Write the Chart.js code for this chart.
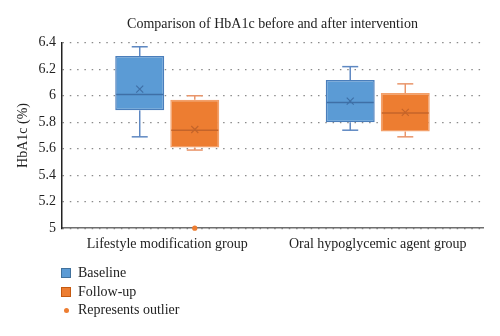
<!DOCTYPE html>
<html>
<head>
<meta charset="utf-8">
<script src="https://cdn.jsdelivr.net/npm/chart.js@4/dist/chart.umd.min.js"></script>
<style>
  html, body { margin: 0; padding: 0; background: #fff; }
  #wrap { position: relative; width: 500px; height: 336px; }
  #legend { position: absolute; left: 61px; top: 264px; font-family: 'Liberation Serif', serif; font-size: 14px; color: #222; }
  .item { height: 18.5px; display: flex; align-items: center; }
  .sw { width: 10px; height: 10px; margin-right: 7px; box-sizing: border-box; }
  .dot { width: 5px; height: 5px; border-radius: 50%; margin: 0 9px 0 3px; background: #ED7D31; }
</style>
</head>
<body>
<div id="wrap">
  <canvas id="chart" width="500" height="336"></canvas>
  <div id="legend">
    <div class="item"><span class="sw" style="background:#5B9BD5;border:1px solid #41719C"></span>Baseline</div>
    <div class="item"><span class="sw" style="background:#ED7D31;border:1px solid #C55A11"></span>Follow-up</div>
    <div class="item"><span class="dot"></span>Represents outlier</div>
  </div>
</div>
<script>
// data
const categories = ['Lifestyle modification group', 'Oral hypoglycemic agent group'];

const baselineMin = [5.69, 5.74];
const baselineQ1 = [5.89, 5.80];
const baselineMedian = [6.01, 5.95];
const baselineMean = [6.05, 5.96];
const baselineQ3 = [6.30, 6.12];
const baselineMax = [6.37, 6.22];
const baselineOutliers = [[], []];

const followMin = [5.59, 5.69];
const followQ1 = [5.61, 5.73];
const followMedian = [5.74, 5.87];
const followMean = [5.745, 5.875];
const followQ3 = [5.97, 6.02];
const followMax = [6.00, 6.09];
const followOutliers = [[5.0], []];

const yTicks = [5, 5.2, 5.4, 5.6, 5.8, 6, 6.2, 6.4];

const FONT = "'Liberation Serif', 'DejaVu Serif', serif";
const TEXT = '#222';

const series = [
  { min: baselineMin, q1: baselineQ1, med: baselineMedian, mean: baselineMean, q3: baselineQ3, max: baselineMax, out: baselineOutliers,
    whisker: '#5E88C2', median: '#3F6FA6', fill: '#ED7D31' },
  { min: followMin, q1: followQ1, med: followMedian, mean: followMean, q3: followQ3, max: followMax, out: followOutliers,
    whisker: '#E9956A', median: '#C4642A', fill: '#ED7D31' }
];

// whiskers, medians, means and outliers on top of the floating bars
const boxDecor = {
  id: 'boxDecor',
  afterDatasetsDraw(chart) {
    const y = chart.scales.y;
    const c = chart.ctx;
    const line = (x1, y1, x2, y2) => { c.beginPath(); c.moveTo(x1, y1); c.lineTo(x2, y2); c.stroke(); };
    series.forEach((s, di) => {
      chart.getDatasetMeta(di).data.forEach((bar, i) => {
        const x = bar.x, half = bar.width / 2, cap = 8;
        c.save();
        c.lineWidth = 1.5;
        c.strokeStyle = s.whisker;
        const yq3 = y.getPixelForValue(s.q3[i]), ymax = y.getPixelForValue(s.max[i]);
        const yq1 = y.getPixelForValue(s.q1[i]), ymin = y.getPixelForValue(s.min[i]);
        line(x, yq3, x, ymax);
        line(x - cap, ymax, x + cap, ymax);
        line(x, yq1, x, ymin);
        line(x - cap, ymin, x + cap, ymin);
        c.strokeStyle = s.median;
        const ym = y.getPixelForValue(s.med[i]);
        line(x - half + 1, ym, x + half - 1, ym);
        const ya = y.getPixelForValue(s.mean[i]);
        c.lineWidth = 1.2;
        line(x - 3.5, ya - 3.5, x + 3.5, ya + 3.5);
        line(x - 3.5, ya + 3.5, x + 3.5, ya - 3.5);
        c.fillStyle = s.fill;
        s.out[i].forEach(v => {
          c.beginPath();
          c.arc(x, y.getPixelForValue(v), 2.6, 0, Math.PI * 2);
          c.fill();
        });
        c.restore();
      });
    });
  }
};

new Chart(document.getElementById('chart'), {
  type: 'bar',
  data: {
    labels: categories,
    datasets: [
      {
        label: 'Baseline',
        data: baselineQ1.map((v, i) => [v, baselineQ3[i]]),
        backgroundColor: '#5B9BD5',
        borderColor: '#4A7EBB',
        borderWidth: 1.5,
        borderSkipped: false,
        categoryPercentage: 0.523,
        barPercentage: 0.89
      },
      {
        label: 'Follow-up',
        data: followQ1.map((v, i) => [v, followQ3[i]]),
        backgroundColor: '#ED7D31',
        borderColor: '#F3A06A',
        borderWidth: 1.5,
        borderSkipped: false,
        categoryPercentage: 0.523,
        barPercentage: 0.89
      }
    ]
  },
  options: {
    responsive: false,
    animation: false,
    layout: { padding: { left: 8, right: 17, top: 8, bottom: 75 } },
    plugins: {
      legend: { display: false },
      tooltip: { enabled: false },
      title: {
        display: true,
        fullSize: false,
        text: 'Comparison of HbA1c before and after intervention',
        color: TEXT,
        font: { family: FONT, size: 14, weight: 'normal' },
        padding: { top: 8, bottom: 10 }
      }
    },
    scales: {
      x: {
        grid: { display: false, drawTicks: false },
        border: { color: '#6f6f6f', width: 1.5 },
        ticks: { color: TEXT, font: { family: FONT, size: 14 }, padding: 8 }
      },
      y: {
        min: 5,
        max: 6.4,
        afterBuildTicks: axis => { axis.ticks = yTicks.map(v => ({ value: v })); },
        afterFit: axis => { axis.width = 54; },
        grid: { color: '#8a8a8a', lineWidth: 1.3, drawTicks: false },
        border: { color: '#222', width: 1.5, dash: [1.5, 5.8] },
        ticks: { color: TEXT, font: { family: FONT, size: 14 }, padding: 6, callback: v => String(+v.toFixed(1)) },
        title: { display: true, text: 'HbA1c (%)', color: TEXT, font: { family: FONT, size: 14 }, padding: { top: 7, bottom: 0 } }
      }
    }
  },
  plugins: [boxDecor]
});
</script>
</body>
</html>
